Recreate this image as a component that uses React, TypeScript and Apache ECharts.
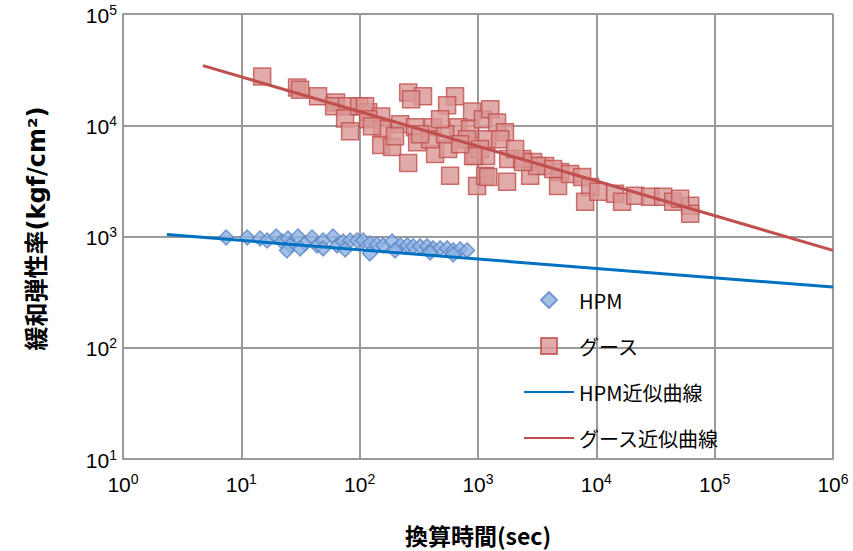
import React, { useEffect, useRef } from "react";
import * as echarts from "echarts";

// 換算時間 (sec), 緩和弾性率 (kgf/cm2)
const hpmTime = [7.43, 11.2, 14.4, 16.5, 19.7, 22.1, 24.8, 25.8, 30.1, 34.5, 39.6, 43.6, 49.1, 59.6, 64.4, 72.4, 83.0, 95.1, 107, 122, 140, 158, 188, 220, 252, 283, 324, 371, 417, 478, 548, 617, 706, 809, 24.3, 49.1, 122, 617, 31.4, 75.3, 199, 394];
const hpmModulus = [980, 980, 960, 921, 1000, 902, 960, 832, 1000, 866, 980, 832, 921, 1000, 832, 902, 921, 921, 921, 866, 849, 832, 902, 832, 832, 815, 815, 815, 782, 782, 782, 750, 766, 750, 750, 782, 705, 690, 782, 766, 750, 720];

const gooseTime = [15.0, 29.6, 31.4, 44.5, 63.1, 60.8, 78.2, 75.3, 83.0, 98.9, 118, 111, 257, 343, 272, 640, 548, 891, 152, 118, 155, 152, 188, 220, 294, 417, 306, 257, 434, 559, 679, 858, 581, 809, 945, 982, 1150, 1100, 1190, 1270, 1450, 1690, 1040, 1170, 1220, 1760, 1800, 2360, 2920, 3690, 2760, 4940, 4750, 6010, 7590, 8870, 8040, 3160, 4310, 10400, 14400, 16500, 21300, 28500, 36700, 44600, 62100, 62100, 2400, 909, 394, 527, 324, 199, 51100, 706, 1540, 2060, 127, 478];
const gooseModulus = [27400, 21800, 20900, 18200, 16000, 14800, 14800, 11500, 8830, 14800, 13100, 14800, 19700, 18200, 17100, 18200, 15100, 13300, 12000, 11300, 9200, 6630, 6360, 10200, 9600, 9600, 7050, 4580, 5510, 6110, 9600, 9200, 3510, 7500, 5290, 2850, 3510, 11300, 7500, 13900, 10600, 8670, 6110, 5290, 3430, 3100, 4970, 4970, 4670, 4310, 3510, 3800, 2850, 3650, 3430, 2790, 2050, 4310, 4050, 2520, 2420, 2050, 2320, 2280, 2280, 2050, 1890, 1600, 4670, 5290, 7500, 8320, 8320, 7980, 2180, 6760, 7500, 6110, 9800, 11300];

// 近似曲線 (power trend) end points
const hpmFitTime = [2.35, 1000000];
const hpmFitModulus = [1042, 351];
const gooseFitTime = [4.74, 1000000];
const gooseFitModulus = [34360, 750];

const seriesNames = ["HPM", "グース", "HPM近似曲線", "グース近似曲線"];
const xAxisTitle = "換算時間(sec)";
const yAxisTitle = "緩和弾性率(kgf/cm²)";

const zip = (a: number[], b: number[]) => a.map((v, i) => [v, b[i]]);

const powLabel = (v: number) => {
  const e = Math.round(Math.log10(v));
  return `{b|10}{s|${e}}`;
};

const tickRich = {
  b: { fontSize: 21, fontFamily: "Liberation Sans", color: "#000", lineHeight: 23, verticalAlign: "bottom" },
  s: { fontSize: 14, fontFamily: "Liberation Sans", color: "#000", lineHeight: 23, verticalAlign: "top" },
};

const hiddenSymbol = { color: "rgba(0,0,0,0)", borderWidth: 0, opacity: 0 };
// legend icons in a 50x16 box (moveTo corners keep the box so the marker is not stretched)
const diamondIcon = "path://M0 0M50 16M25 0L33 8L25 16L17 8Z";
const squareIcon = "path://M0 0M50 16M16.5 -0.5H33.5V16.5H16.5Z";

export default function App() {
  const ref = useRef<HTMLDivElement>(null);
  useEffect(() => {
    if (!ref.current) return;
    const chart = echarts.init(ref.current, undefined, { renderer: "svg" });
    chart.setOption({
      animation: false,
      backgroundColor: "#fff",
      grid: { left: 123, right: 20, top: 14, bottom: 89 },
      xAxis: {
        type: "log",
        logBase: 10,
        min: 1,
        max: 1000000,
        name: xAxisTitle,
        nameLocation: "middle",
        nameGap: 64,
        nameTextStyle: { fontSize: 23, fontWeight: "bold", fontFamily: "Noto Sans CJK JP", color: "#000" },
        axisLine: { show: true, lineStyle: { color: "#9a9a9a", width: 2 } },
        axisTick: { show: false },
        minorTick: { show: false },
        splitLine: { show: true, lineStyle: { color: "#9a9a9a", width: 2 } },
        axisLabel: { formatter: powLabel, rich: tickRich, margin: 13 },
      },
      yAxis: {
        type: "log",
        logBase: 10,
        min: 10,
        max: 100000,
        name: yAxisTitle,
        nameLocation: "middle",
        nameGap: 74,
        nameRotate: 90,
        nameTextStyle: {
          fontSize: 24,
          fontWeight: "bold",
          fontFamily: "DejaVu Sans, Noto Sans CJK JP",
          color: "#000",
          padding: [0, 0, 0, 16],
        },
        axisLine: { show: true, lineStyle: { color: "#9a9a9a", width: 2 } },
        axisTick: { show: false },
        splitLine: { show: true, lineStyle: { color: "#9a9a9a", width: 2 } },
        axisLabel: { formatter: powLabel, rich: tickRich, margin: 6 },
      },
      legend: {
        orient: "vertical",
        left: 523,
        top: 288,
        padding: 0,
        itemWidth: 50,
        itemHeight: 16,
        itemGap: 22,
        textStyle: { fontSize: 20, fontFamily: "Noto Sans CJK JP", color: "#000", lineHeight: 24 },
        data: [
          { name: seriesNames[0], icon: diamondIcon },
          { name: seriesNames[1], icon: squareIcon },
          { name: seriesNames[2], itemStyle: hiddenSymbol },
          { name: seriesNames[3], itemStyle: hiddenSymbol },
        ],
      },
      series: [
        {
          name: seriesNames[0],
          type: "scatter",
          symbol: "diamond",
          symbolSize: 15,
          data: zip(hpmTime, hpmModulus),
          itemStyle: { color: "#8db3e2", borderColor: "#5b86c4", borderWidth: 1.5 },
        },
        {
          name: seriesNames[1],
          type: "scatter",
          symbol: "rect",
          symbolSize: 17,
          data: zip(gooseTime, gooseModulus),
          itemStyle: { color: "#d99694", borderColor: "#c0504d", borderWidth: 1.5 },
        },
        {
          name: seriesNames[2],
          type: "line",
          symbol: "none",
          data: zip(hpmFitTime, hpmFitModulus),
          lineStyle: { color: "#0070c0", width: 3 },
          itemStyle: { color: "#0070c0" },
          z: 3,
        },
        {
          name: seriesNames[3],
          type: "line",
          symbol: "none",
          data: zip(gooseFitTime, gooseFitModulus),
          lineStyle: { color: "#c0504d", width: 3 },
          itemStyle: { color: "#c0504d" },
          z: 3,
        },
      ],
    });
    return () => chart.dispose();
  }, []);
  return <div ref={ref} style={{ position: "fixed", left: 0, top: 0, width: 853, height: 551 }} />;
}
